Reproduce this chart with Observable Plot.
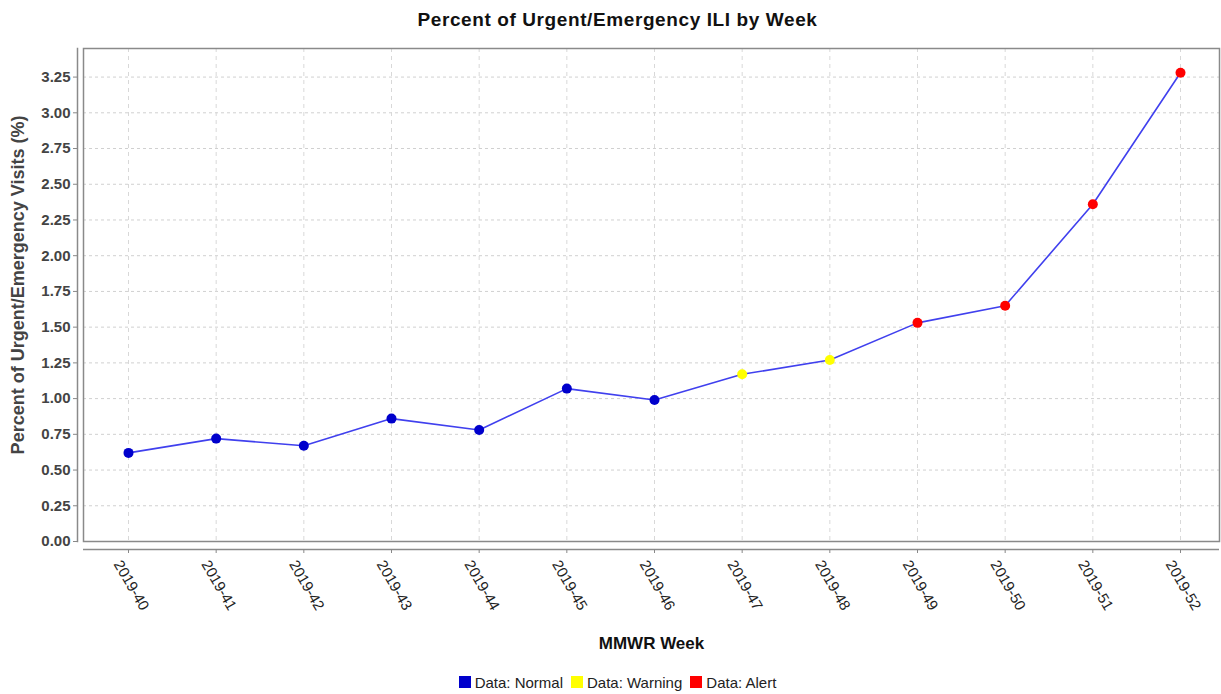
<!DOCTYPE html>
<html>
<head>
<meta charset="utf-8">
<script src="https://cdn.jsdelivr.net/npm/d3@7"></script>
<script src="https://cdn.jsdelivr.net/npm/@observablehq/plot@0.6"></script>
<style>
  html, body { margin: 0; padding: 0; background: #fff; width: 1221px; height: 694px; overflow: hidden; }
  body { font-family: "Liberation Sans", Arial, sans-serif; }
  #title { height: 40px; line-height: 40px; text-align: center; font-weight: bold; font-size: 19px; letter-spacing: 0.6px; color: #111; padding-left: 14px; }
  #legend { height: 24px; padding-top: 10px; display: flex; justify-content: center; align-items: center; font-size: 15px; color: #222; padding-left: 14px; }
  .sw { display: inline-flex; align-items: center; margin: 0 4px; }
  .sw i { display: inline-block; width: 12px; height: 12px; margin-right: 4px; }
</style>
</head>
<body>
<div id="title">Percent of Urgent/Emergency ILI by Week</div>
<div id="chart"></div>
<div id="legend"></div>
<script>
const weeks = ["2019-40","2019-41","2019-42","2019-43","2019-44","2019-45","2019-46","2019-47","2019-48","2019-49","2019-50","2019-51","2019-52"];
const values = [0.62, 0.72, 0.67, 0.86, 0.78, 1.07, 0.99, 1.17, 1.27, 1.53, 1.65, 2.36, 3.28];
const statuses = ["Normal","Normal","Normal","Normal","Normal","Normal","Normal","Warning","Warning","Alert","Alert","Alert","Alert"];
const statusNames = ["Normal","Warning","Alert"];
const statusColors = ["#0000cc","#ffff00","#ff0000"];
const yTicks = [0,0.25,0.5,0.75,1,1.25,1.5,1.75,2,2.25,2.5,2.75,3,3.25];

const data = weeks.map((w, i) => ({week: w, value: values[i], status: statuses[i]}));

const plot = Plot.plot({
  width: 1221,
  height: 620,
  marginTop: 8,
  marginBottom: 119,
  marginLeft: 83,
  marginRight: 2,
  style: {fontFamily: "'Liberation Sans', Arial, sans-serif", background: "#fff", overflow: "visible"},
  x: {type: "point", domain: weeks, padding: 0, round: false, insetLeft: 45, insetRight: 39, label: null},
  y: {domain: [0, 3.45], label: null},
  color: {domain: statusNames, range: statusColors},
  marks: [
    Plot.gridY(yTicks, {stroke: "#d0d0d0", strokeOpacity: 1, strokeDasharray: "3,3"}),
    Plot.gridX(weeks, {stroke: "#d8d8d8", strokeOpacity: 1, strokeDasharray: "4,4"}),
    Plot.frame({stroke: "#8a8a8a", strokeWidth: 1.5}),
    Plot.frame({anchor: "left", dx: -6, stroke: "#8a8a8a", strokeWidth: 1.5}),
    Plot.ruleY([0], {dy: 8, stroke: "#8a8a8a", strokeWidth: 1.5}),
    Plot.axisY(yTicks, {
      tickFormat: d3.format(".2f"), tickSize: 4, tickPadding: 3, dx: -6,
      stroke: "#888", fill: "#444", fontSize: 15, fontWeight: "bold", label: null
    }),
    Plot.axisX(weeks, {
      tickRotate: 60, tickSize: 4, tickPadding: 7, dy: 8,
      stroke: "#888", label: null
    }),
    Plot.text(weeks, {
      x: d => d, frameAnchor: "bottom", dy: 20, dx: -11, rotate: 60, text: d => d,
      textAnchor: "start", lineAnchor: "middle", fill: "#222", fontSize: 15
    }),
    Plot.text(["Percent of Urgent/Emergency Visits (%)"], {
      frameAnchor: "left", dx: -65, dy: -10, rotate: -90, text: d => d, textAnchor: "middle",
      fontSize: 18, fontWeight: "bold", fill: "#444", letterSpacing: "1.1px"
    }),
    Plot.text(["MMWR Week"], {
      frameAnchor: "bottom", dy: 107, text: d => d,
      fontSize: 17, fontWeight: "bold", fill: "#111"
    }),
    Plot.line(data, {x: "week", y: "value", stroke: "#4040ee", strokeWidth: 1.6}),
    Plot.dot(data, {x: "week", y: "value", fill: "status", r: 5})
  ]
});
// keep the axis tick marks but hide the duplicated default labels
plot.querySelectorAll('[aria-label="x-axis tick label"]').forEach(g => g.remove());
document.getElementById("chart").appendChild(plot);

const legend = document.getElementById("legend");
statusNames.forEach((n, i) => {
  const s = document.createElement("span");
  s.className = "sw";
  s.innerHTML = `<i style="background:${statusColors[i]}"></i>Data: ${n}`;
  legend.appendChild(s);
});
</script>
</body>
</html>
